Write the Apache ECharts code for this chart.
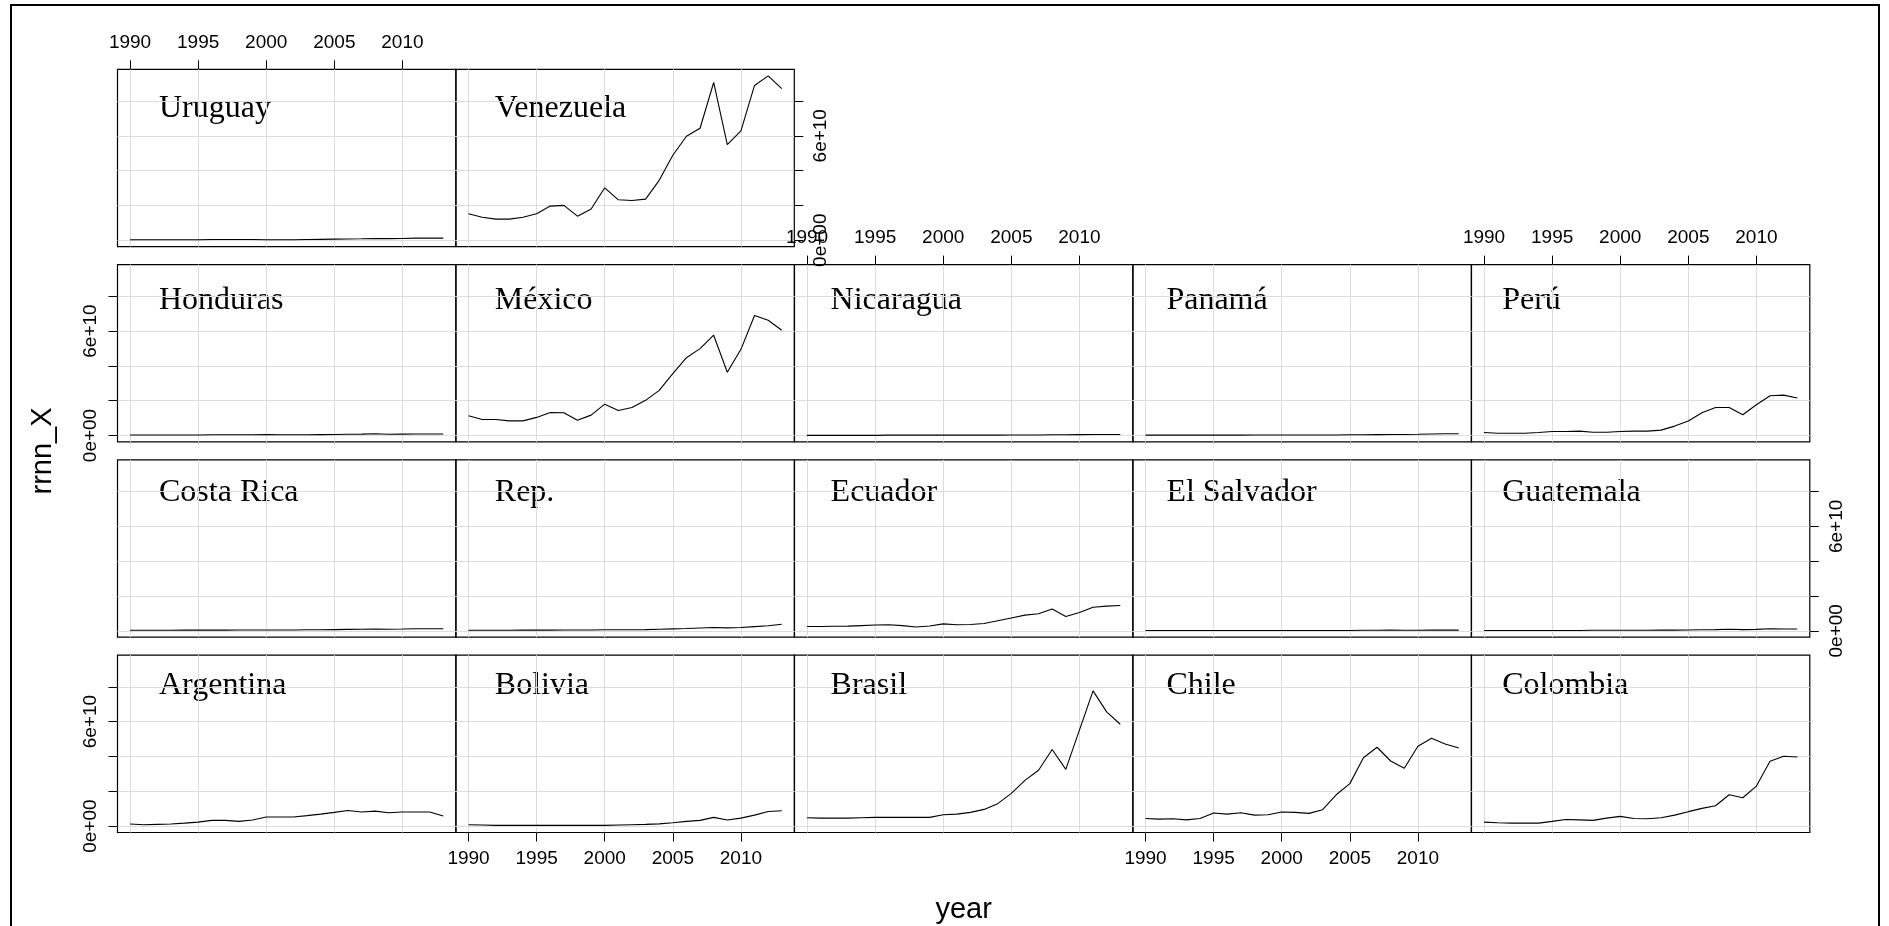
<!DOCTYPE html>
<html><head><meta charset="utf-8">
<script src="https://cdn.jsdelivr.net/npm/echarts@6/dist/echarts.min.js"></script>
<style>html,body{margin:0;padding:0;background:#fff}#c{width:1889px;height:926px}</style>
</head><body><div id="c"></div>
<script>
// ---- data (values in billions of the rrnn_X unit; scaled by 1e9 when plotted) ----
const years = [1990,1991,1992,1993,1994,1995,1996,1997,1998,1999,2000,2001,2002,2003,2004,2005,2006,2007,2008,2009,2010,2011,2012,2013];
const xTicks = [1990,1995,2000,2005,2010];
const yTicks = [0,2e10,4e10,6e10,8e10];
const yLabelTicks = [0,6e10];
const yLabelText = {0:'0e+00', 60000000000:'6e+10'};
const SCALE = 1e9;

const argentina = [1.2,0.8,1.0,1.2,1.7,2.3,3.3,3.3,2.7,3.5,5.2,5.2,5.2,6.0,6.9,7.9,9.0,8.1,8.6,7.7,8.1,8.1,8.1,5.8];
const bolivia   = [0.8,0.6,0.4,0.4,0.4,0.4,0.4,0.4,0.4,0.4,0.4,0.6,0.8,1.0,1.3,1.9,2.7,3.3,5.0,3.5,4.6,6.3,8.4,8.8];
const brasil    = [4.8,4.6,4.6,4.6,4.8,5.0,5.0,5.0,5.0,5.0,6.5,6.9,7.9,9.6,12.9,18.8,26.3,32.1,44.0,32.6,55.1,77.7,65.6,58.5];
const chile     = [4.4,4.0,4.2,3.6,4.4,7.5,6.9,7.7,6.3,6.5,8.1,7.9,7.3,9.4,18.0,24.4,39.3,45.3,37.4,33.2,45.9,50.5,47.2,44.9];
const colombia  = [2.3,1.9,1.7,1.7,1.7,2.7,3.8,3.6,3.3,4.6,5.6,4.4,4.2,4.8,6.3,8.3,10.2,11.7,18.0,16.3,23.0,37.2,40.1,39.7];
const costaRica = [0.3,0.3,0.3,0.3,0.4,0.4,0.4,0.4,0.5,0.5,0.5,0.5,0.5,0.6,0.6,0.7,0.8,0.9,1.0,0.9,1.0,1.2,1.2,1.2];
const repDom    = [0.3,0.3,0.3,0.3,0.4,0.4,0.4,0.5,0.5,0.5,0.6,0.6,0.6,0.7,0.9,1.1,1.3,1.6,1.9,1.7,1.9,2.4,2.9,3.8];
const ecuador   = [2.5,2.5,2.6,2.7,3.0,3.3,3.5,3.0,2.2,2.8,4.0,3.5,3.6,4.2,5.8,7.4,9.0,9.8,12.5,8.2,10.5,13.5,14.2,14.5];
const elSalvador= [0.2,0.2,0.2,0.2,0.2,0.2,0.2,0.2,0.2,0.2,0.2,0.2,0.2,0.2,0.2,0.2,0.3,0.3,0.4,0.3,0.3,0.4,0.4,0.4];
const guatemala = [0.2,0.2,0.2,0.2,0.2,0.2,0.2,0.2,0.3,0.3,0.3,0.3,0.3,0.4,0.4,0.5,0.6,0.7,0.9,0.7,0.8,1.2,1.0,1.0];
const honduras  = [0.3,0.3,0.3,0.3,0.3,0.3,0.4,0.4,0.4,0.4,0.5,0.4,0.4,0.4,0.5,0.6,0.7,0.8,1.0,0.7,0.8,0.9,0.9,0.9];
const mexico    = [11.3,9.2,9.2,8.4,8.4,10.4,13.2,13.1,8.8,11.7,18.0,14.4,16.1,20.2,25.9,35.5,44.7,49.9,57.6,36.3,49.5,68.9,66.2,60.5];
const nicaragua = [0.1,0.1,0.1,0.1,0.1,0.1,0.2,0.2,0.2,0.2,0.2,0.2,0.2,0.2,0.2,0.3,0.3,0.3,0.4,0.4,0.5,0.6,0.6,0.6];
const panama    = [0.2,0.2,0.2,0.2,0.2,0.2,0.2,0.2,0.3,0.3,0.3,0.3,0.3,0.3,0.3,0.4,0.4,0.5,0.6,0.6,0.7,0.9,1.0,1.0];
const peru      = [1.7,1.3,1.3,1.3,1.7,2.3,2.3,2.5,1.9,1.9,2.3,2.5,2.5,3.1,5.4,8.3,13.1,16.1,16.1,11.9,17.7,22.8,23.2,21.5];
const uruguay   = [0.3,0.3,0.3,0.3,0.3,0.3,0.4,0.4,0.4,0.4,0.3,0.3,0.3,0.4,0.5,0.6,0.7,0.8,1.0,0.9,1.0,1.2,1.2,1.2];
const venezuela = [15.2,13.2,12.1,12.1,13.2,15.2,19.6,20.0,13.8,17.9,30.1,23.2,22.8,23.6,34.4,48.8,59.7,64.3,90.6,54.9,62.8,88.9,94.4,87.1];

const panelNames = ['Argentina','Bolivia','Brasil','Chile','Colombia',
  'Costa Rica','Rep.','Ecuador','El Salvador','Guatemala',
  'Honduras','México','Nicaragua','Panamá','Perú',
  'Uruguay','Venezuela'];
const panelValues = [argentina,bolivia,brasil,chile,colombia,
  costaRica,repDom,ecuador,elSalvador,guatemala,
  honduras,mexico,nicaragua,panama,peru,
  uruguay,venezuela];

// ---- limits (lattice-style 4% extension) ----
let gMin = Infinity, gMax = -Infinity;
panelValues.forEach(a => a.forEach(v => { gMin = Math.min(gMin, v*SCALE); gMax = Math.max(gMax, v*SCALE); }));
const yR = gMax - gMin;
const yMin = gMin - 0.04*yR, yMax = gMax + 0.04*yR;
const xR = years[years.length-1] - years[0];
const xMin = years[0] - 0.04*xR, xMax = years[years.length-1] + 0.04*xR;

// ---- layout ----
const PW = 338.3, PH = 177.3;
const colLeft = c => 117.5 + c*338.5;
const rowTop = r => 69.3 + r*195.3; // r: 0 = top row
const nRowsFromBottom = 4;

const FONT = 'Liberation Sans, Arial, Helvetica, sans-serif';
const SERIF = 'Liberation Serif, Times New Roman, serif';
const grids = [], xAxes = [], yAxes = [], series = [], graphics = [];
const grid = '#dcdcdc';

panelNames.forEach((name, i) => {
  const rb = Math.floor(i/5), col = i%5;
  const rt = nRowsFromBottom - 1 - rb;
  const left = colLeft(col), top = rowTop(rt);
  const isTopmost = (i >= 15) || (i >= 10 && col >= 2);
  const xTop = isTopmost && col%2===0;
  const xBottom = rb===0 && col%2===1;
  const lastInRow = (i === panelNames.length-1) || col===4;
  const yLeft = col===0 && rb%2===0;
  const yRight = lastInRow && rb%2===1;
  grids.push({left:left, top:top, width:PW, height:PH, show:true, borderColor:'#000', borderWidth:1.2, backgroundColor:'transparent'});
  xAxes.push({gridIndex:i, type:'value', min:xMin, max:xMax, position: xTop ? 'top' : 'bottom',
    axisLine:{show:false, onZero:false},
    axisTick:{show:true, length:9, customValues:xTicks, lineStyle:{color:(xTop||xBottom)?'#000':'rgba(0,0,0,0)', width:1}},
    axisLabel:{show:xTop||xBottom, customValues:xTicks, margin:17, fontSize:19, fontFamily:FONT, color:'#000', formatter:v=>String(v)},
    splitLine:{show:true, lineStyle:{color:grid, width:1}}
  });
  yAxes.push({gridIndex:i, type:'value', min:yMin, max:yMax, position: yRight ? 'right' : 'left',
    axisLine:{show:false, onZero:false},
    axisTick:{show:true, length:9, customValues:yTicks, lineStyle:{color:(yLeft||yRight)?'#000':'rgba(0,0,0,0)', width:1}},
    axisLabel:{show:yLeft||yRight, customValues:yLabelTicks, rotate:90, margin:17, fontSize:19, fontFamily:FONT, color:'#000',
      formatter:v => yLabelText[Math.round(v)] || ''},
    splitLine:{show:true, lineStyle:{color:grid, width:1}}
  });
  series.push({type:'line', xAxisIndex:i, yAxisIndex:i, symbol:'none', silent:true, animation:false,
    lineStyle:{color:'#000', width:1.1}, z:3,
    data: years.map((y,k) => [y, panelValues[i][k]*SCALE])});
  // panel label position (reference spacing differs slightly from panel spacing)
  graphics.push({type:'text', x:159 + col*335.8, y:124.5 + rt*192.2, silent:true,
    style:{text:name, font:'32px '+SERIF, fill:'#000', verticalAlign:'bottom'}});
});

graphics.push({type:'text', x:43, y:451, rotation:Math.PI/2, silent:true,
  style:{text:'rrnn_X', font:'29px '+FONT, fill:'#000', align:'center', verticalAlign:'middle'}});
graphics.push({type:'text', x:963.6, y:909.5, silent:true,
  style:{text:'year', font:'29px '+FONT, fill:'#000', align:'center', verticalAlign:'middle'}});
graphics.push({type:'rect', shape:{x:11, y:5, width:1868, height:925}, silent:true, z:-1,
  style:{fill:'none', stroke:'#000', lineWidth:2}});

const chart = echarts.init(document.getElementById('c'), null, {renderer:'canvas'});
chart.setOption({animation:false, backgroundColor:'#fff', grid:grids, xAxis:xAxes, yAxis:yAxes, series:series, graphic:graphics});
</script></body></html>
